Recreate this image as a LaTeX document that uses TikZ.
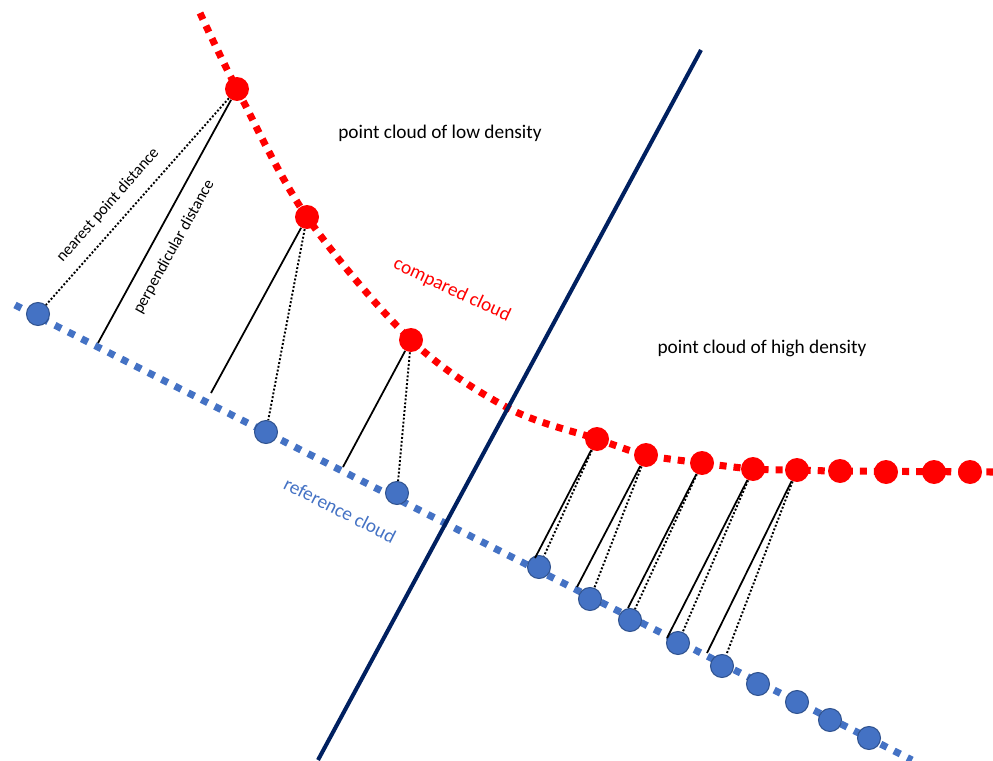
\documentclass[tikz,border=0pt]{standalone}
\usepackage{fontspec}
\setmainfont{Carlito}
\definecolor{refblue}{HTML}{4472C4}
\definecolor{refedge}{HTML}{2F528F}
\definecolor{navy}{HTML}{002060}
\begin{document}
\begin{tikzpicture}[
	x=0.02cm,
	y=-0.02cm,
	compared/.style={
		draw=red,
		line width=4pt,
		dash pattern=on 4pt off 4pt
	},
	reference/.style={
		draw=refblue,
		line width=4pt,
		dash pattern=on 4pt off 4.5pt
	},
	redpt/.style={
		circle,
		fill=red,
		inner sep=0pt,
		minimum size=0.48cm
	},
	bluept/.style={
		circle,
		fill=refblue,
		draw=refedge,
		line width=0.6pt,
		inner sep=0pt,
		minimum size=0.46cm
	},
	perp/.style={
		draw=black,
		line width=1pt
	},
	nearest/.style={
		draw=black,
		line width=1.1pt,
		dash pattern=on 1.1pt off 1.1pt
	},
	caption/.style={
		font=\fontsize{11}{13}\selectfont,
		inner sep=1pt
	},
	small/.style={
		font=\fontsize{9.2}{11}\selectfont,
		inner sep=1pt
	},
]

\useasboundingbox (0,0) rectangle (993,760);

% Clouds
\draw[compared] plot[smooth, tension=0.55] coordinates {(200,13) (237,89) (307,217) (411,340) (508,408) (597,439) (646,455) (702,463) (753,469) (797,470) (840,471) (993,472)};
\draw[reference] (15,305) -- (912,760);

% Divider
\coordinate (divlow) at (318,760);
\coordinate (divtop) at (701,50);
\draw[navy, line width=2.3pt] (divlow) -- (divtop);

% Points
\foreach \n/\x/\y in {1/237/89, 2/307/217, 3/411/340, 4/597/439, 5/646/455, 6/702/463,
	7/753/469, 8/797/470, 9/840/471, 10/886/472, 11/934/472, 12/970/472}
	\node[redpt] (r\n) at (\x,\y) {};

\foreach \n/\x/\y in {1/38/314, 2/266/432, 3/397/493, 4/539/567, 5/590/599, 6/630/620,
	7/678/643, 8/722/666, 9/758/684, 10/797/702, 11/830/720, 12/869/738}
	\node[bluept] (b\n) at (\x,\y) {};

% Feet
\foreach \n/\x/\y in {1/98/343, 2/211/393, 3/343/467, 4/535/558, 5/577/587, 6/628/608,
	7/667/638, 8/707/653}
	\coordinate (f\n) at (\x,\y);

% Distances
\foreach \n in {1, ..., 8} {
	\draw[perp] (r\n) -- (f\n);
	\draw[nearest] (r\n) -- (b\n);
}

% Labels
\node[caption] (low) at (440,133) {point cloud of low density};
\node[caption] (high) at (762,348) {point cloud of high density};
\node[caption, red, rotate=-25] (cmp) at (452,290) {compared cloud};
\node[caption, refblue, rotate=-27] (ref) at (340,510) {reference cloud};
\node[small, rotate=48.5] (npd) at (108,205) {nearest point distance};
\node[small, rotate=61] (pd) at (174,247) {perpendicular distance};

\end{tikzpicture}
\end{document}
